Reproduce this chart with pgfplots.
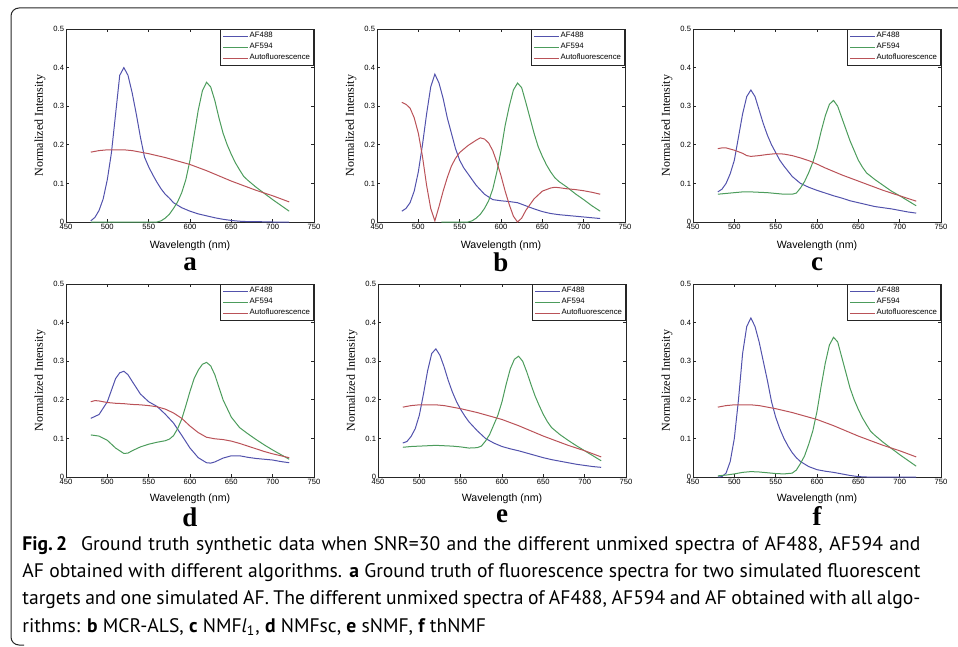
\documentclass[border=0pt]{standalone}
\usepackage{fontspec}
\usepackage{pgfplots}
\pgfplotsset{compat=1.18}
\newfontfamily\capfont{PT Sans}
\newfontfamily\axfont{Liberation Sans}
\newfontfamily\serfont{Liberation Serif}
\definecolor{cblue}{RGB}{82,82,172}
\definecolor{cgreen}{RGB}{76,156,92}
\definecolor{cred}{RGB}{186,82,88}
\tikzset{lbl/.style={font=\serfont\bfseries\fontsize{13.5}{14}\selectfont, anchor=base, inner sep=0pt}}
\pgfplotsset{
 panel/.style={
  scale only axis, width=124pt, height=96.5pt, clip mode=individual,
  xmin=450, xmax=750, ymin=0, ymax=0.5,
  xtick={450,500,550,600,650,700,750}, ytick={0,0.1,0.2,0.3,0.4,0.5},
  tick align=inside, tick pos=both, major tick length=1.6pt,
  axis line style={line width=0.45pt, black!85},
  every tick/.style={black!85, line width=0.4pt},
  /pgf/number format/assume math mode=true,
  tick label style={font=\axfont\fontsize{3.8}{4}\selectfont, inner sep=0.8pt},
  xlabel={Wavelength (nm)}, ylabel={Normalized Intensity},
  xlabel style={font=\axfont\fontsize{5.3}{6}\selectfont, at={(axis description cs:0.5,-0.123)}, anchor=center, inner sep=0pt},
  ylabel style={font=\serfont\fontsize{6}{7}\selectfont, at={(axis description cs:-0.105,0.5)}, anchor=center},
  legend style={at={(1,1)}, anchor=north east, draw=black!85, line width=0.4pt,
    font=\axfont\fontsize{3.9}{4.3}\selectfont, inner xsep=1.2pt, inner ysep=0.8pt,
    row sep=0pt, cells={anchor=west}, nodes={inner sep=0.6pt}},
  legend image code/.code={\draw[#1] (0pt,0pt) -- (12.3pt,0pt);},
  every axis plot/.append style={line width=0.5pt},
 },
}
\begin{document}
\begin{tikzpicture}
\useasboundingbox (0,0) rectangle (479pt,-323.5pt);
\draw[line width=0.5pt, black!85, rounded corners=4pt] (480pt,-4pt) -- (5.5pt,-4pt) -- (5.5pt,-322.5pt) -- (12pt,-322.5pt);
% ---------------- a ----------------
\begin{axis}[panel, at={(33pt,-111pt)}, anchor=south west]
\addplot[cblue] coordinates {(480,0.003)(485,0.012)(490,0.03)(495,0.06)(500,0.11)(505,0.18)(510,0.28)(515,0.38)(520,0.40)(525,0.38)(530,0.335)(535,0.28)(540,0.22)(545,0.168)(550,0.143)(555,0.122)(560,0.103)(565,0.086)(570,0.072)(575,0.062)(580,0.05)(590,0.037)(600,0.028)(610,0.021)(620,0.016)(630,0.011)(640,0.007)(650,0.004)(660,0.002)(670,0.001)(680,0.001)(700,0)(720,0)};
\addplot[cgreen] coordinates {(480,0)(500,0)(520,0)(540,0)(560,0)(565,0.003)(570,0.01)(575,0.02)(580,0.035)(585,0.052)(590,0.076)(595,0.11)(600,0.16)(605,0.225)(610,0.29)(615,0.34)(620,0.362)(625,0.35)(630,0.315)(635,0.27)(640,0.23)(645,0.2)(650,0.175)(655,0.153)(660,0.135)(665,0.118)(670,0.108)(680,0.09)(690,0.074)(700,0.058)(710,0.043)(720,0.028)};
\addplot[cred] coordinates {(480,0.181)(490,0.185)(500,0.187)(510,0.187)(520,0.187)(530,0.185)(540,0.181)(550,0.177)(560,0.172)(570,0.167)(580,0.161)(590,0.155)(600,0.149)(610,0.141)(620,0.133)(630,0.124)(640,0.115)(650,0.106)(660,0.098)(670,0.09)(680,0.082)(690,0.075)(700,0.068)(710,0.06)(720,0.052)};
\legend{AF488,AF594,Autofluorescence}
\node[lbl] at (axis description cs:0.5,-0.25) {a};
\end{axis}
% ---------------- b ----------------
\begin{axis}[panel, at={(188.5pt,-111pt)}, anchor=south west]
\addplot[cblue] coordinates {(480,0.028)(485,0.035)(490,0.05)(495,0.08)(500,0.13)(505,0.2)(510,0.28)(515,0.35)(520,0.383)(525,0.36)(530,0.32)(535,0.27)(540,0.23)(545,0.19)(550,0.16)(555,0.14)(560,0.125)(570,0.095)(580,0.072)(590,0.058)(600,0.055)(610,0.053)(620,0.05)(630,0.042)(640,0.034)(650,0.027)(660,0.022)(670,0.019)(680,0.017)(690,0.015)(700,0.013)(710,0.011)(720,0.009)};
\addplot[cgreen] coordinates {(528,0)(540,0)(560,0)(565,0.003)(570,0.01)(575,0.02)(580,0.035)(585,0.055)(590,0.085)(595,0.13)(600,0.185)(605,0.25)(610,0.3)(615,0.342)(620,0.36)(625,0.348)(630,0.31)(635,0.27)(640,0.23)(645,0.195)(650,0.17)(655,0.148)(660,0.13)(665,0.115)(670,0.105)(680,0.09)(690,0.073)(700,0.058)(710,0.042)(720,0.028)};
\addplot[cred] coordinates {(480,0.31)(485,0.305)(490,0.295)(495,0.27)(500,0.23)(505,0.17)(510,0.095)(515,0.035)(520,0.003)(525,0.04)(530,0.08)(535,0.115)(540,0.145)(545,0.165)(550,0.18)(560,0.198)(570,0.212)(575,0.218)(580,0.215)(585,0.205)(590,0.185)(595,0.155)(600,0.12)(605,0.08)(610,0.045)(615,0.015)(620,0.0)(625,0.01)(630,0.03)(640,0.06)(650,0.08)(660,0.088)(665,0.09)(670,0.089)(680,0.086)(690,0.084)(700,0.081)(710,0.077)(720,0.072)};
\legend{AF488,AF594,Autofluorescence}
\node[lbl] at (axis description cs:0.5,-0.258) {b};
\end{axis}
% ---------------- c ----------------
\begin{axis}[panel, at={(346.5pt,-111pt)}, anchor=south west]
\addplot[cblue] coordinates {(480,0.078)(485,0.085)(490,0.1)(495,0.125)(500,0.16)(505,0.22)(510,0.28)(515,0.325)(520,0.342)(525,0.325)(530,0.29)(535,0.255)(540,0.225)(545,0.2)(550,0.18)(555,0.16)(560,0.145)(570,0.118)(580,0.1)(590,0.09)(600,0.082)(610,0.075)(620,0.068)(630,0.062)(640,0.055)(650,0.05)(660,0.045)(670,0.04)(680,0.037)(690,0.034)(700,0.03)(710,0.026)(720,0.023)};
\addplot[cgreen] coordinates {(480,0.072)(490,0.074)(500,0.076)(510,0.078)(520,0.078)(530,0.077)(540,0.076)(550,0.074)(560,0.072)(570,0.072)(575,0.075)(580,0.088)(585,0.105)(590,0.128)(595,0.155)(600,0.19)(605,0.235)(610,0.275)(615,0.305)(620,0.315)(625,0.3)(630,0.27)(635,0.24)(640,0.21)(645,0.185)(650,0.16)(655,0.142)(660,0.127)(670,0.11)(680,0.095)(690,0.08)(700,0.068)(710,0.055)(720,0.042)};
\addplot[cred] coordinates {(480,0.19)(485,0.192)(490,0.192)(500,0.186)(510,0.178)(515,0.172)(520,0.17)(530,0.172)(540,0.175)(550,0.177)(560,0.176)(570,0.172)(580,0.166)(590,0.159)(600,0.15)(610,0.14)(620,0.131)(630,0.122)(640,0.114)(650,0.106)(660,0.098)(670,0.09)(680,0.082)(690,0.075)(700,0.068)(710,0.061)(720,0.054)};
\legend{AF488,AF594,Autofluorescence}
\node[lbl] at (axis description cs:0.5,-0.25) {c};
\end{axis}
% ---------------- d ----------------
\begin{axis}[panel, at={(33pt,-238.5pt)}, anchor=south west, xlabel style={at={(axis description cs:0.5,-0.115)}}]
\addplot[cblue] coordinates {(480,0.152)(490,0.162)(500,0.195)(505,0.225)(510,0.255)(515,0.27)(520,0.274)(525,0.265)(530,0.248)(540,0.215)(550,0.195)(560,0.183)(570,0.163)(580,0.14)(590,0.108)(600,0.075)(610,0.05)(620,0.037)(625,0.036)(630,0.039)(640,0.049)(650,0.055)(660,0.055)(670,0.051)(680,0.048)(690,0.046)(700,0.044)(710,0.04)(720,0.037)};
\addplot[cgreen] coordinates {(480,0.109)(490,0.106)(500,0.095)(510,0.075)(520,0.061)(525,0.062)(530,0.068)(540,0.078)(550,0.085)(560,0.09)(570,0.094)(575,0.098)(580,0.107)(585,0.125)(590,0.15)(595,0.185)(600,0.222)(605,0.255)(610,0.277)(615,0.292)(620,0.297)(625,0.288)(630,0.265)(640,0.2)(650,0.155)(660,0.128)(670,0.112)(680,0.097)(690,0.083)(700,0.07)(710,0.058)(720,0.046)};
\addplot[cred] coordinates {(480,0.195)(485,0.198)(490,0.197)(500,0.193)(510,0.191)(520,0.19)(530,0.188)(540,0.187)(550,0.185)(560,0.182)(570,0.176)(580,0.166)(590,0.152)(600,0.132)(610,0.115)(620,0.103)(630,0.099)(640,0.097)(650,0.093)(660,0.087)(670,0.08)(680,0.073)(690,0.066)(700,0.06)(710,0.055)(720,0.05)};
\legend{AF488,AF594,Autofluorescence}
\node[lbl] at (axis description cs:0.5,-0.255) {d};
\end{axis}
% ---------------- e ----------------
\begin{axis}[panel, at={(189pt,-238.5pt)}, anchor=south west, xlabel style={at={(axis description cs:0.5,-0.115)}}]
\addplot[cblue] coordinates {(480,0.088)(485,0.092)(490,0.105)(495,0.125)(500,0.16)(505,0.215)(510,0.275)(515,0.32)(520,0.332)(525,0.315)(530,0.285)(535,0.25)(540,0.22)(545,0.195)(550,0.175)(555,0.158)(560,0.143)(570,0.12)(580,0.1)(590,0.088)(600,0.079)(610,0.073)(620,0.068)(630,0.062)(640,0.056)(650,0.05)(660,0.045)(670,0.041)(680,0.037)(690,0.033)(700,0.03)(710,0.027)(720,0.025)};
\addplot[cgreen] coordinates {(480,0.077)(490,0.079)(500,0.08)(510,0.081)(520,0.082)(530,0.081)(540,0.08)(550,0.078)(560,0.075)(570,0.076)(575,0.08)(580,0.093)(585,0.11)(590,0.135)(595,0.16)(600,0.195)(605,0.24)(610,0.28)(615,0.305)(620,0.313)(625,0.3)(630,0.272)(635,0.24)(640,0.21)(645,0.185)(650,0.162)(655,0.143)(660,0.128)(670,0.11)(680,0.095)(690,0.081)(700,0.068)(710,0.055)(720,0.042)};
\addplot[cred] coordinates {(480,0.181)(490,0.185)(500,0.187)(510,0.187)(520,0.187)(530,0.185)(540,0.181)(550,0.177)(560,0.172)(570,0.167)(580,0.161)(590,0.155)(600,0.149)(610,0.141)(620,0.133)(630,0.124)(640,0.115)(650,0.106)(660,0.098)(670,0.09)(680,0.082)(690,0.075)(700,0.068)(710,0.06)(720,0.052)};
\legend{AF488,AF594,Autofluorescence}
\node[lbl] at (axis description cs:0.5,-0.235) {e};
\end{axis}
% ---------------- f ----------------
\begin{axis}[panel, at={(346.5pt,-238.5pt)}, anchor=south west, xlabel style={at={(axis description cs:0.5,-0.115)}}]
\addplot[cblue] coordinates {(480,0)(485,0.001)(490,0.01)(495,0.04)(500,0.1)(505,0.2)(510,0.32)(515,0.39)(520,0.412)(525,0.39)(530,0.35)(535,0.3)(540,0.25)(545,0.195)(550,0.155)(555,0.125)(560,0.1)(565,0.08)(570,0.063)(575,0.05)(580,0.04)(590,0.027)(600,0.019)(610,0.015)(620,0.012)(630,0.008)(640,0.004)(650,0.001)(660,0)(720,0)};
\addplot[cgreen] coordinates {(480,0.003)(490,0.005)(500,0.008)(510,0.012)(520,0.014)(530,0.013)(540,0.011)(550,0.009)(560,0.008)(570,0.01)(575,0.018)(580,0.035)(585,0.055)(590,0.085)(595,0.12)(600,0.17)(605,0.235)(610,0.295)(615,0.342)(620,0.362)(625,0.35)(630,0.31)(635,0.27)(640,0.23)(645,0.2)(650,0.175)(655,0.153)(660,0.135)(665,0.118)(670,0.108)(680,0.09)(690,0.074)(700,0.058)(710,0.043)(720,0.028)};
\addplot[cred] coordinates {(480,0.181)(490,0.185)(500,0.187)(510,0.187)(520,0.187)(530,0.185)(540,0.181)(550,0.177)(560,0.172)(570,0.167)(580,0.161)(590,0.155)(600,0.149)(610,0.141)(620,0.133)(630,0.124)(640,0.115)(650,0.106)(660,0.098)(670,0.09)(680,0.082)(690,0.075)(700,0.068)(710,0.06)(720,0.052)};
\legend{AF488,AF594,Autofluorescence}
\node[lbl] at (axis description cs:0.5,-0.25) {f};
\end{axis}
% ---------------- caption ----------------
\node[anchor=base west, inner sep=0pt] at (11pt,-275pt) {\parbox[t]{449pt}{\capfont\fontsize{9.8}{13.7}\selectfont\parindent=0pt
{\bfseries Fig.\,2}\hspace{0.7em}Ground truth synthetic data when SNR=30 and the different unmixed spectra of AF488, AF594 and\linebreak
AF obtained with different algorithms. {\bfseries a} Ground truth of fluorescence spectra for two simulated fluorescent\linebreak
targets and one simulated AF. The different unmixed spectra of AF488, AF594 and AF obtained with all algo-\linebreak
rithms: {\bfseries b} MCR-ALS, {\bfseries c} NMF\textit{l}\textsubscript{1}, {\bfseries d} NMFsc, {\bfseries e} sNMF, {\bfseries f} thNMF}};
\end{tikzpicture}
\end{document}
